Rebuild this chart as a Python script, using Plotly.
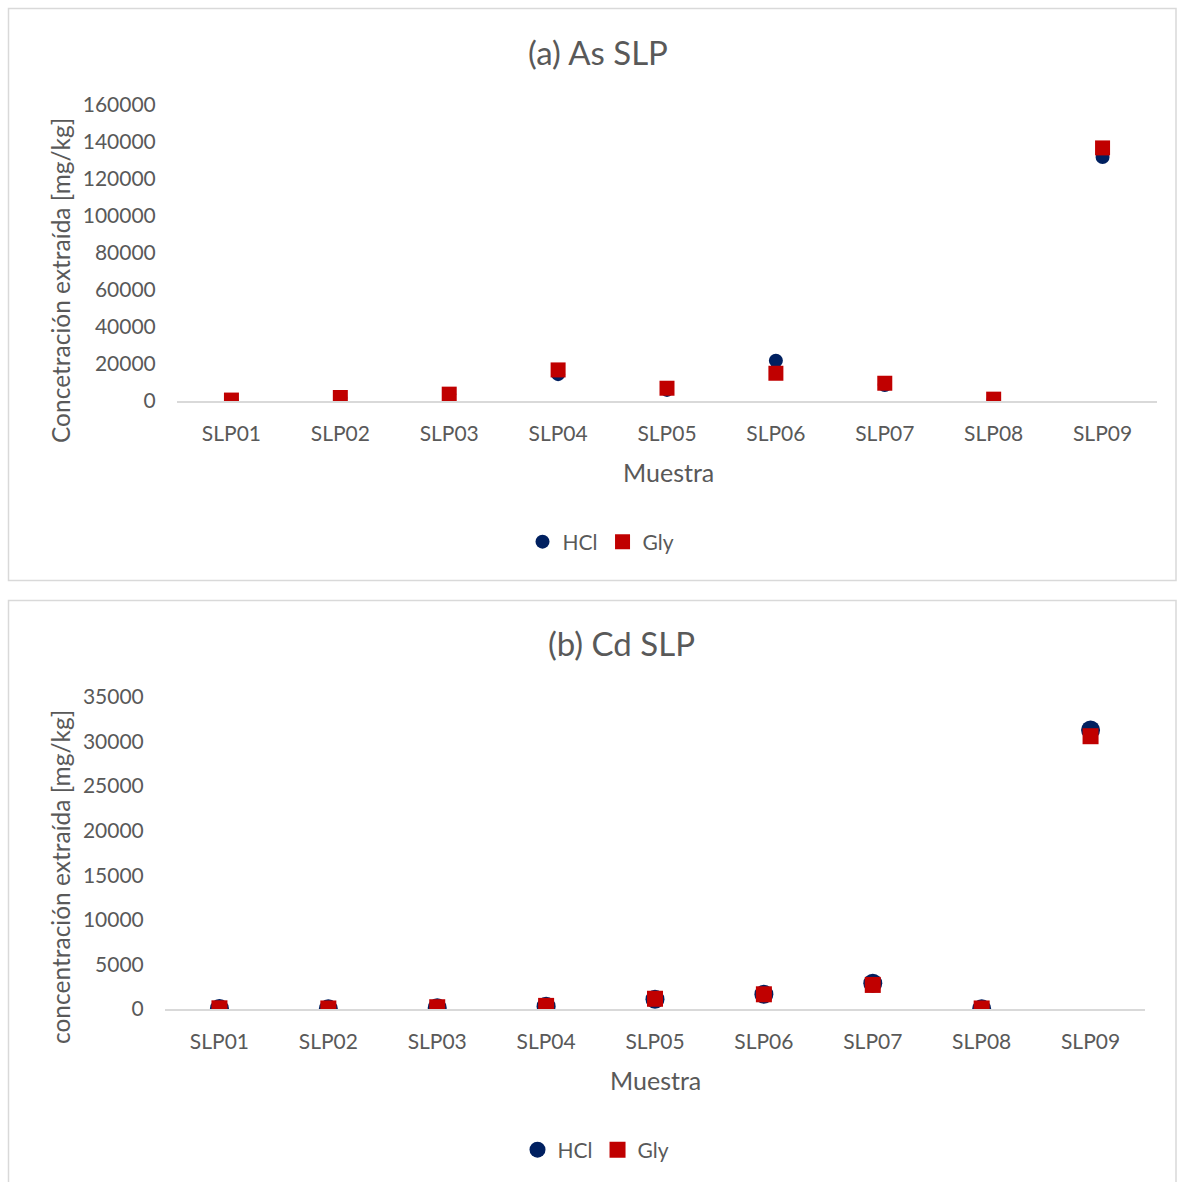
import plotly.graph_objects as go

W, H = 1177, 1182

samples = ["SLP01", "SLP02", "SLP03", "SLP04", "SLP05", "SLP06", "SLP07", "SLP08", "SLP09"]

as_hcl = [500, 1800, 3600, 14500, 6000, 21800, 8600, 900, 131900]
as_gly = [500, 1900, 3700, 16800, 6900, 15000, 9600, 1000, 136800]

cd_hcl = [60, 40, 150, 300, 1090, 1650, 2880, 40, 31300]
cd_gly = [80, 60, 200, 350, 1150, 1650, 2700, 60, 30600]

a_ticks = [0, 20000, 40000, 60000, 80000, 100000, 120000, 140000, 160000]
b_ticks = [0, 5000, 10000, 15000, 20000, 25000, 30000, 35000]

NAVY = "#002060"
RED = "#C00000"
TXT = "#595959"
FONT = "Lato"

def px(x):
    return x / W

def py(y):
    return 1 - y / H

fig = go.Figure()

# Chart (a)
fig.add_trace(go.Scatter(x=samples, y=as_hcl, mode="markers", name="HCl",
                         marker=dict(symbol="circle", size=14, color=NAVY),
                         xaxis="x", yaxis="y", legend="legend"))
fig.add_trace(go.Scatter(x=samples, y=as_gly, mode="markers", name="Gly",
                         marker=dict(symbol="square", size=15, color=RED),
                         xaxis="x", yaxis="y", legend="legend"))
# Chart (b)
fig.add_trace(go.Scatter(x=samples, y=cd_hcl, mode="markers", name="HCl",
                         marker=dict(symbol="circle", size=19, color=NAVY),
                         xaxis="x2", yaxis="y2", legend="legend2"))
fig.add_trace(go.Scatter(x=samples, y=cd_gly, mode="markers", name="Gly",
                         marker=dict(symbol="square", size=16, color=RED),
                         xaxis="x2", yaxis="y2", legend="legend2"))

tickfont = dict(family=FONT, size=21, color=TXT)

xcommon = dict(type="category", showgrid=False, showline=True, linecolor="#D9D9D9",
               linewidth=2, ticks="outside", ticklen=13, tickcolor="rgba(0,0,0,0)",
               tickfont=tickfont, zeroline=False, fixedrange=True, automargin=False)
ycommon = dict(showgrid=False, showline=False, zeroline=False, ticks="outside",
               ticklen=16, tickcolor="rgba(0,0,0,0)", tickfont=tickfont, fixedrange=True,
               automargin=False)

fig.update_layout(
    width=W, height=H,
    margin=dict(l=0, r=0, t=0, b=0, autoexpand=False),
    paper_bgcolor="white", plot_bgcolor="white",
    font=dict(family=FONT, color=TXT),
    xaxis=dict(domain=[px(177), px(1157)], anchor="y", range=[-0.5, 8.5], **xcommon),
    yaxis=dict(domain=[py(401), py(105)], anchor="x", range=[0, 160000],
               tickvals=a_ticks, ticktext=[str(v) for v in a_ticks], **ycommon),
    xaxis2=dict(domain=[px(165), px(1145)], anchor="y2", range=[-0.5, 8.5], **xcommon),
    yaxis2=dict(domain=[py(1009), py(697)], anchor="x2", range=[0, 35000],
                tickvals=b_ticks, ticktext=[str(v) for v in b_ticks], **ycommon),
    legend=dict(orientation="h", x=px(601), y=py(542), xanchor="center", yanchor="middle",
                font=dict(family=FONT, size=21, color=TXT), itemwidth=30,
                bgcolor="rgba(0,0,0,0)"),
    legend2=dict(orientation="h", x=px(596), y=py(1150), xanchor="center", yanchor="middle",
                 font=dict(family=FONT, size=21, color=TXT), itemwidth=30,
                 bgcolor="rgba(0,0,0,0)"),
    showlegend=True,
)

# Boxes around each chart
fig.add_shape(type="rect", xref="paper", yref="paper",
              x0=px(8.5), x1=px(1176), y0=py(580.5), y1=py(8.5),
              line=dict(color="#D9D9D9", width=1.5), fillcolor="rgba(0,0,0,0)", layer="below")
fig.add_shape(type="rect", xref="paper", yref="paper",
              x0=px(8.5), x1=px(1176), y0=py(1190), y1=py(600.5),
              line=dict(color="#D9D9D9", width=1.5), fillcolor="rgba(0,0,0,0)", layer="below")

ann = []
ann.append(dict(text="(a) As SLP", x=px(598), y=py(52), xref="paper", yref="paper",
                showarrow=False, xanchor="center", yanchor="middle",
                font=dict(family=FONT, size=33, color=TXT)))
ann.append(dict(text="(b) Cd SLP", x=px(621), y=py(643), xref="paper", yref="paper",
                showarrow=False, xanchor="center", yanchor="middle",
                font=dict(family=FONT, size=33, color=TXT)))
ann.append(dict(text="Muestra", x=px(668), y=py(472), xref="paper", yref="paper",
                showarrow=False, xanchor="center", yanchor="middle",
                font=dict(family=FONT, size=25, color=TXT)))
ann.append(dict(text="Muestra", x=px(655), y=py(1080), xref="paper", yref="paper",
                showarrow=False, xanchor="center", yanchor="middle",
                font=dict(family=FONT, size=25, color=TXT)))
ann.append(dict(text="Concetración extraída [mg/kg]", x=px(60), y=py(281), xref="paper",
                yref="paper", showarrow=False, textangle=-90, xanchor="center",
                yanchor="middle", font=dict(family=FONT, size=24.5, color=TXT)))
ann.append(dict(text="concentración extraída [mg/kg]", x=px(60), y=py(877), xref="paper",
                yref="paper", showarrow=False, textangle=-90, xanchor="center",
                yanchor="middle", font=dict(family=FONT, size=24.5, color=TXT)))
fig.update_layout(annotations=ann)

fig.write_html("out.html")
